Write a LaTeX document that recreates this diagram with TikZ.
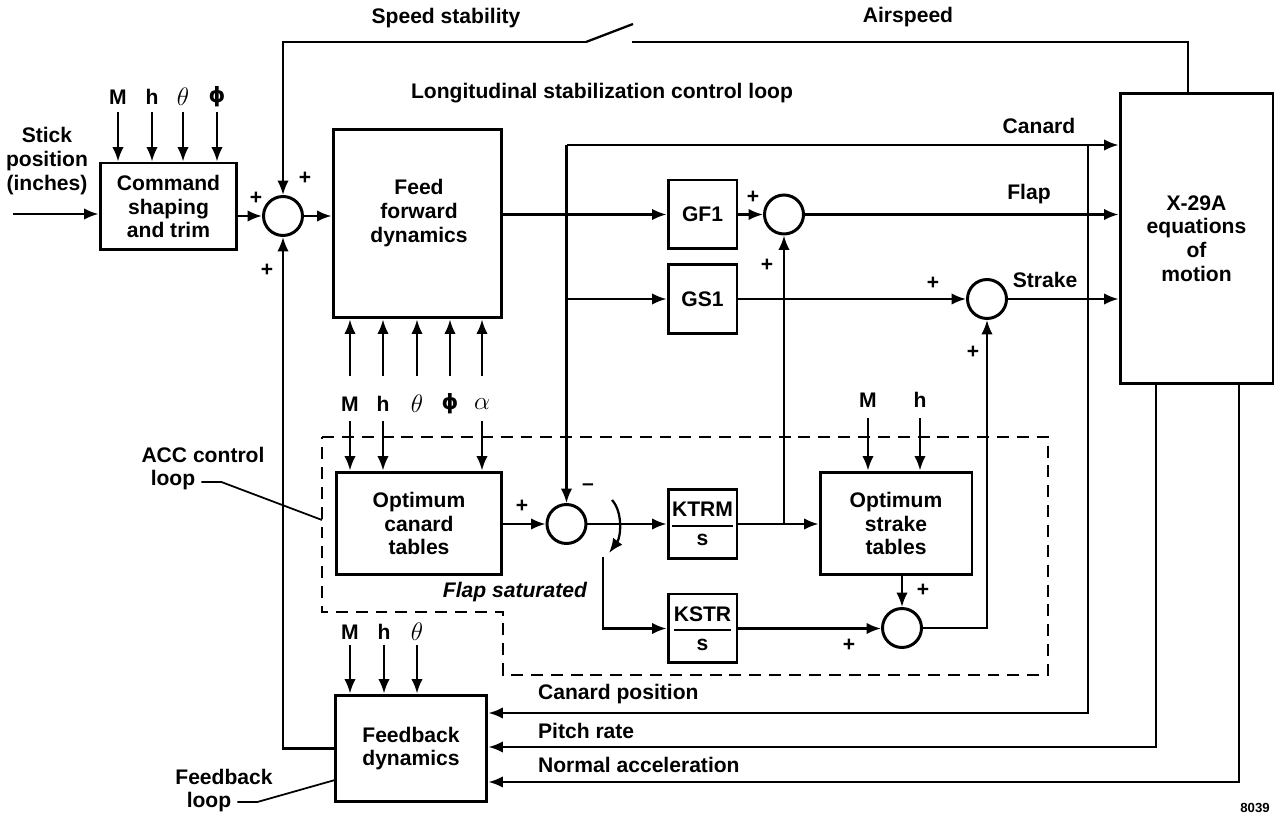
\documentclass[tikz,border=0pt]{standalone}
\usepackage{fontspec}
\usepackage{amsmath}
\setmainfont{Liberation Sans}
\newfontfamily\dejavu{DejaVu Sans}
\newcommand{\myphi}{{\dejavu\bfseries ϕ}}
\usetikzlibrary{arrows.meta,calc}
\begin{document}
\begin{tikzpicture}[x=0.02cm,y=-0.02cm,
  every node/.style={font=\fontsize{12}{13.5}\selectfont\bfseries,inner sep=1pt},
  box/.style={draw,line width=1.7pt,inner sep=0pt,align=center},
  sq/.style={box,minimum width=1.38cm,minimum height=1.38cm},
  sumc/.style={draw,circle,line width=1.7pt,minimum size=0.78cm,inner sep=0pt},
  ln/.style={line width=1.3pt},
  arr/.style={ln,-{Latex[length=2.9mm,width=2.3mm]}},
  gk/.style={font=\fontsize{14}{14}\selectfont},
  dashbox/.style={line width=1.3pt,dash pattern=on 6.8pt off 4.5pt},
  leader/.style={line width=1pt},
]
\useasboundingbox (0,0) rectangle (1275,820);

% ---------- blocks ----------
\node[box,minimum width=2.74cm,minimum height=1.74cm] (cmd) at (168.5,206.5) {Command\\shaping\\and trim};
\node[box,minimum width=3.38cm,minimum height=3.78cm] (ff) at (417.5,223.5) {};
\node[align=center] (fft) at (419,213) {Feed\\forward\\dynamics};
\node[sq] (gf1) at (702.5,214.5) {GF1};
\node[sq] (gs1) at (702.5,299) {GS1};
\node[sq] (ktrm) at (702.5,524) {$\genfrac{}{}{1.2pt}{0}{\text{KTRM}}{\text{s}}$};
\node[sq] (kstr) at (702.5,628.5) {$\genfrac{}{}{1.2pt}{0}{\text{KSTR}}{\text{s}}$};
\node[box,minimum width=3.32cm,minimum height=2.06cm] (can) at (419,523.5) {Optimum\\canard\\tables};
\node[box,minimum width=3.04cm,minimum height=2.06cm] (str) at (896,523.5) {Optimum\\strake\\tables};
\node[box,minimum width=3.04cm,minimum height=2.14cm] (fb) at (411,748.5) {Feedback\\dynamics};
\node[box,minimum width=3.06cm,minimum height=5.82cm] (x29) at (1196.5,238.5) {X-29A\\equations\\of\\motion};

% ---------- summing junctions ----------
\node[sumc] (s1) at (283,216) {};
\node[sumc] (s2) at (784,214.5) {};
\node[sumc] (s3) at (566.5,524) {};
\node[sumc] (s4) at (987,299) {};
\node[sumc] (s5) at (902,628) {};

% ---------- coordinates ----------
\coordinate (stk) at (13,214);
\coordinate (asp) at (1188,42);
\coordinate (swR) at (632,42);
\coordinate (swL) at (586,42);
\coordinate (swT) at (633,24);
\coordinate (cj) at (566.5,145);
\coordinate (sa) at (612,500);
\coordinate (sb) at (609,553);
\coordinate (sc) at (603,557);
\coordinate (cp) at (1088,145);
\coordinate (cpb) at (1088,713);
\coordinate (pr) at (1156,747);
\coordinate (na) at (1239,782);
\coordinate (fbl) at (335,780);
\coordinate (accend) at (322,520);

% ---------- connectors ----------
\draw[arr] (stk) -- (stk -| cmd.west);
\draw[arr] (cmd.east |- s1) -- (s1);
\draw[arr] (s1) -- (s1 -| ff.west);
\draw[ln] (x29.north -| asp) -- (asp) -- (swR);
\draw[ln] (swL) -- (swT);
\draw[arr] (swL) -- (s1.north |- swL) -- (s1);
\draw[arr] (fb.west) -- (fb.west -| s1) -- (s1);
\draw[arr] (ff.east |- gf1) -- (gf1);
\draw[arr] (gf1) -- (s2);
\draw[arr] (s2) -- (s2 -| x29.west);
\draw[arr] (cj) -- (cj -| x29.west);
\draw[arr] (cj) -- (s3);
\draw[arr] (cj |- gs1) -- (gs1);
\draw[arr] (gs1) -- (s4);
\draw[arr] (s4) -- (s4 -| x29.west);
\draw[arr] (can.east |- s3) -- (s3);
\draw[arr] (s3) -- (ktrm);
\draw[arr] (ktrm) -- (ktrm -| str.west);
\draw[arr] (s2 |- ktrm) -- (s2);
\draw[arr] (sa) .. controls (623,512) and (621,537) .. (sb);
\draw[arr] (sc) -- (sc |- kstr) -- (kstr);
\draw[arr] (kstr) -- (kstr -| s5.west);
\draw[arr] (str.south -| s5) -- (s5);
\draw[arr] (s5) -- (s5 -| s4) -- (s4);
\draw[arr] (cp) -- (cpb) -- (cpb -| fb.east);
\draw[arr] (x29.south -| pr) -- (pr) -- (pr -| fb.east);
\draw[arr] (x29.south -| na) -- (na) -- (na -| fb.east);

% ---------- inputs to command shaping ----------
\node (im) at (118,97) {M};
\node (ih) at (152,97) {h};
\node[gk] (ith) at (183,97) {$\theta$};
\node (iph) at (217,97) {\myphi};
\foreach \n in {im,ih,ith,iph} \draw[arr] (\n) ++(0,15) -- (\n |- cmd.north);

% ---------- inputs to feed forward ----------
\node (fm) at (350,404) {M};
\node (fh) at (383,404) {h};
\node[gk] (fth) at (417,404) {$\theta$};
\node (fph) at (450,404) {\myphi};
\node[gk] (fal) at (482,404) {$\alpha$};
\foreach \n in {fm,fh,fth,fph,fal} \draw[arr] (\n) ++(0,-28) -- (\n |- ff.south);
\foreach \n in {fm,fh,fal} \draw[arr] (\n) ++(0,17) -- (\n |- can.north);

% ---------- inputs to strake tables ----------
\node (sm) at (868,400) {M};
\node (sh) at (920,400) {h};
\foreach \n in {sm,sh} \draw[arr] (\n) ++(0,18) -- (\n |- str.north);

% ---------- inputs to feedback ----------
\node (bm) at (350,632) {M};
\node (bh) at (384,632) {h};
\node[gk] (bth) at (417,632) {$\theta$};
\foreach \n in {bm,bh,bth} \draw[arr] (\n) ++(0,13) -- (\n |- fb.north);

% ---------- ACC dashed loop ----------
\draw[dashbox] (322,437) -- (1048,437) -- (1048,675) -- (503,675) -- (503,612) -- (322,612) -- cycle;

% ---------- signs ----------
\node (p1) at (256,198) {+};
\node (p2) at (305,178) {+};
\node (p3) at (267,270) {+};
\node (p4) at (753,197) {+};
\node (p5) at (767,265) {+};
\node (p6) at (933,283) {+};
\node (p7) at (973,352) {+};
\node (p8) at (522,506) {+};
\node (m1) at (588,487) {\textendash};
\node (p9) at (923,590) {+};
\node (p10) at (849,645) {+};

% ---------- labels ----------
\node (tss) at (446,18) {Speed stability};
\node (tas) at (908,17) {Airspeed};
\node (tlo) at (602,93) {Longitudinal stabilization control loop};
\node (tcan) at (1039,126) {Canard};
\node (tflap) at (1029,194) {Flap};
\node (tstr) at (1045,280) {Strake};
\node[font=\fontsize{12}{13.5}\selectfont\bfseries\itshape] (tfs) at (515,592) {Flap saturated};
\node[anchor=west] (tcp) at (536,694) {Canard position};
\node[anchor=west] (tpr) at (536,731) {Pitch rate};
\node[anchor=west] (tna) at (536,765) {Normal acceleration};
\node[align=center] (tstick) at (47,161) {Stick\\position\\(inches)};
\node[font=\fontsize{7.5}{8}\selectfont\bfseries] (tnum) at (1255,808) {8039};

\node (acc1) at (203,455) {ACC control};
\node (acc2) at (173,480) {loop};
\draw[leader] (acc2.east) ++(4,2) -- ++(20,0) -- (accend);
\node (fl1) at (224,777) {Feedback};
\node (fl2) at (209,802) {loop};
\draw[leader] (fl2.east) ++(4,0) -- ++(20,0) -- (fbl);
\end{tikzpicture}
\end{document}
